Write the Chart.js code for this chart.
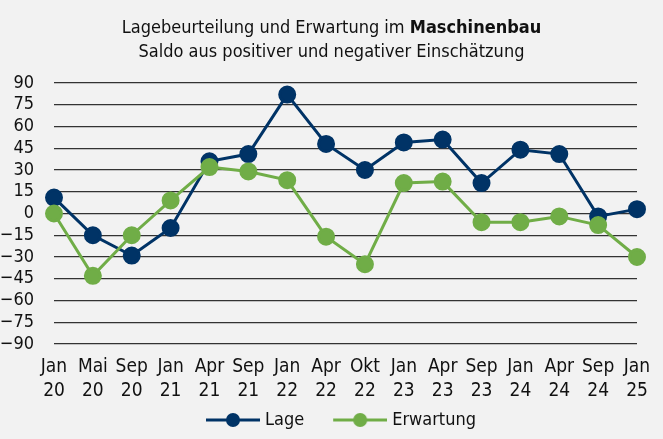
<!DOCTYPE html>
<html>
<head>
<meta charset="utf-8">
<script src="https://cdn.jsdelivr.net/npm/chart.js@4"></script>
<style>
  html, body { margin: 0; padding: 0; background: #f2f2f2; }
  #wrap { position: relative; width: 663px; height: 439px; background: #f2f2f2; }
  #title {
    position: absolute; left: 0; top: 15px; width: 663px; text-align: center;
    font-family: "DejaVu Sans Condensed", "Liberation Sans Narrow", sans-serif;
    font-size: 18px; line-height: 24px; color: #111;
  }
  #title b { font-weight: bold; }
  canvas { position: absolute; left: 0; top: 0; }
</style>
</head>
<body>
<div id="wrap">
  <canvas id="chart" width="663" height="439"></canvas>
  <div id="title">Lagebeurteilung und Erwartung im <b>Maschinenbau</b><br>Saldo aus positiver und negativer Einschätzung</div>
</div>
<script>
// === Data ===
const months = ["Jan", "Mai", "Sep", "Jan", "Apr", "Sep", "Jan", "Apr", "Okt", "Jan", "Apr", "Sep", "Jan", "Apr", "Sep", "Jan"];
const years = ["20", "20", "20", "21", "21", "21", "22", "22", "22", "23", "23", "23", "24", "24", "24", "25"];
const lage = [11, -15, -29, -10, 36, 41, 82, 48, 30, 49, 51, 21, 44, 41, -2, 3];
const erwartung = [0, -43, -15, 9, 32, 29, 23, -16, -35, 21, 22, -6, -6, -2, -8, -30];

const FONT = "'DejaVu Sans Condensed', 'Liberation Sans Narrow', sans-serif";
const NAVY = "#003366";
const GREEN = "#70ad47";

// legend marker: line with a dot, blank on the left to space the items
function legendIcon(color) {
  const c = document.createElement("canvas");
  c.width = 77;
  c.height = 16;
  const ctx = c.getContext("2d");
  ctx.strokeStyle = color;
  ctx.lineWidth = 3;
  ctx.beginPath();
  ctx.moveTo(23, 8);
  ctx.lineTo(77, 8);
  ctx.stroke();
  ctx.fillStyle = color;
  ctx.beginPath();
  ctx.arc(50, 8, 7, 0, Math.PI * 2);
  ctx.fill();
  return c;
}

const labels = months.map((m, i) => [m, years[i]]);

new Chart(document.getElementById("chart"), {
  type: "line",
  data: {
    labels,
    datasets: [
      {
        label: "Lage",
        data: lage,
        borderColor: NAVY,
        backgroundColor: NAVY,
        borderWidth: 3,
        pointRadius: 7.5,
        pointHoverRadius: 7.5,
        order: 1,
      },
      {
        label: "Erwartung",
        data: erwartung,
        borderColor: GREEN,
        backgroundColor: GREEN,
        borderWidth: 3,
        pointRadius: 7.5,
        pointHoverRadius: 7.5,
        order: 0,
      },
    ],
  },
  options: {
    responsive: false,
    animation: false,
    layout: { padding: { top: 83, left: 0, right: 0, bottom: 0 } },
    plugins: {
      title: { display: false },
      tooltip: { enabled: false },
      legend: {
        position: "bottom",
        labels: {
          usePointStyle: true,
          pointStyleWidth: 69,
          generateLabels: (chart) =>
            chart.data.datasets.map((ds, i) => ({
              text: ds.label,
              pointStyle: legendIcon(ds.borderColor),
              fillStyle: ds.borderColor,
              strokeStyle: ds.borderColor,
              lineWidth: 0,
              datasetIndex: i,
              hidden: false,
              fontColor: "#111",
            })),
          color: "#111",
          font: { family: FONT, size: 18 },
          padding: 10,
          boxHeight: 16,
        },
      },
    },
    scales: {
      x: {
        offset: false,
        afterFit: (scale) => { scale.height = 57; },
        grid: { display: false, drawTicks: false },
        border: { display: false },
        ticks: {
          color: "#111",
          font: { family: FONT, size: 19, lineHeight: 1.27 },
          padding: 11,
          maxRotation: 0,
          autoSkip: false,
        },
      },
      y: {
        min: -90,
        max: 90,
        afterFit: (scale) => { scale.width = 54; },
        grid: { color: "#333", lineWidth: 1.3, drawTicks: false },
        border: { display: false },
        ticks: {
          stepSize: 15,
          autoSkip: false,
          color: "#111",
          padding: 20,
          font: { family: FONT, size: 18 },
          callback: (v) => (v < 0 ? "\u2212" + Math.abs(v) : String(v)),
        },
      },
      // empty right margin
      y2: {
        position: "right",
        display: true,
        min: -90,
        max: 90,
        afterFit: (scale) => { scale.width = 26; },
        grid: { display: false, drawTicks: false },
        border: { display: false },
        ticks: { display: false },
      },
    },
  },
});
</script>
</body>
</html>
